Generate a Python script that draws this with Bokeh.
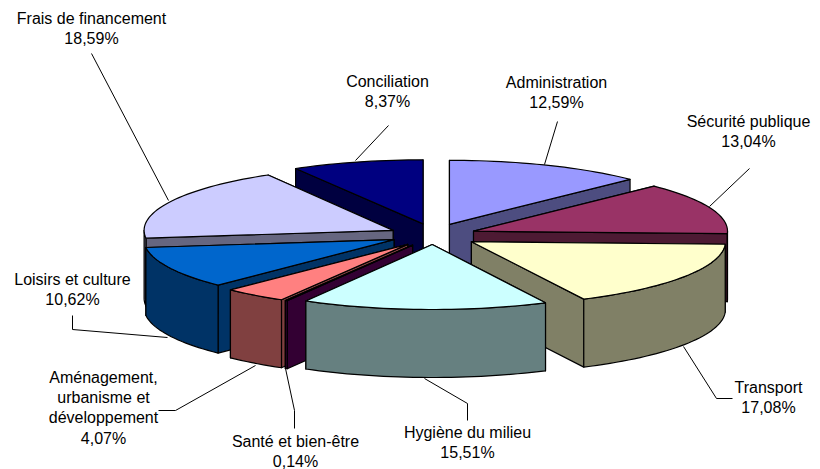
import math
from bokeh.plotting import figure
from bokeh.models import Range1d
from bokeh.core.properties import value
from bokeh.embed import file_html
from bokeh.resources import INLINE

categories = ["Administration", "Sécurité publique", "Transport", "Hygiène du milieu",
              "Santé et bien-être", "Aménagement, urbanisme et développement",
              "Loisirs et culture", "Frais de financement", "Conciliation"]
shares = [12.59, 13.04, 17.08, 15.51, 0.14, 4.07, 10.62, 18.59, 8.37]
share_labels = ["12,59%", "13,04%", "17,08%", "15,51%", "0,14%", "4,07%", "10,62%", "18,59%", "8,37%"]

top_colors = ["#9999FF", "#993366", "#FFFFCC", "#CCFFFF", "#660066", "#FF8080", "#0066CC", "#CCCCFF", "#000080"]
side_colors = ["#4D4D80", "#4D1A33", "#808066", "#668080", "#330033", "#804040", "#003366", "#666680", "#000040"]

# layout (pixels of the page)
CX, CY, A, B, DEPTH = 432.0, 233.5, 254.0, 64.0, 68.0
EX, EY = 44.0, 10.5
# small per-slice corrections for the reference's perspective
nudge_x = [0, 0, 2, 1, 2, 2, 1, 0, 2]
nudge_y = [0, 1, 2, 0, 2, 2, 1, 1, 0]
radius_x = [254, 254, 254, 256, 254, 252, 250, 249, 254]
radius_y = [64, 64, 64, 65, 64, 64, 64, 64, 64]
paint_order = [8, 0, 7, 1, 6, 2, 5, 4, 3]
label_lines = [["Administration"], ["Sécurité publique"], ["Transport"], ["Hygiène du milieu"],
               ["Santé et bien-être"], ["Aménagement,", "urbanisme et", "développement"],
               ["Loisirs et culture"], ["Frais de financement"], ["Conciliation"]]
label_pos = [(556, 82), (748, 121), (768, 387), (467, 432), (295, 441), (103, 377), (72, 279), (91, 18), (387, 81)]
LINE_H = 20.2
leaders = [
    [(557, 121), (544, 164)],
    [(749, 168), (709, 206)],
    [(683, 346), (716, 398), (732, 398)],
    [(424, 378), (467, 403), (467, 420)],
    [(285, 368), (294, 410), (294, 428)],
    [(255, 365), (175, 410), (158, 410)],
    [(167, 337), (72, 329), (72, 315)],
    [(91, 53), (168, 200)],
    [(388, 125), (355, 160)],
]

W, H = 820, 469
p = figure(width=W, height=H, output_backend="svg", toolbar_location=None,
           x_range=Range1d(0, W), y_range=Range1d(H, 0),
           min_border=0, outline_line_color=None, background_fill_color="white")
p.xaxis.visible = False
p.yaxis.visible = False
p.grid.visible = False

for pts in leaders:
    p.line([q[0] for q in pts], [q[1] for q in pts], line_color="black", line_width=1)

total = sum(shares)
bounds = [0.0]
for s in shares:
    bounds.append(bounds[-1] + s / total * 2 * math.pi)


def arc(ax, ay, rx, ry, t0, t1):
    n = max(2, int((t1 - t0) / 0.03) + 2)
    ts = [t0 + (t1 - t0) * i / (n - 1) for i in range(n)]
    return [(ax + rx * math.sin(t), ay - ry * math.cos(t)) for t in ts]


def poly(pts, color):
    p.patch([q[0] for q in pts], [q[1] for q in pts], fill_color=color,
            line_color="black", line_width=1.2, line_join="round")


for i in paint_order:
    t0, t1 = bounds[i], bounds[i + 1]
    mid = (t0 + t1) / 2
    ax = CX + EX * math.sin(mid) + nudge_x[i]
    ay = CY - EY * math.cos(mid) + nudge_y[i]
    rx, ry = radius_x[i], radius_y[i]
    outer = arc(ax, ay, rx, ry, t0, t1)
    walls = sorted([outer[0], outer[-1]], key=lambda q: q[1])
    for c in walls:
        poly([(ax, ay), c, (c[0], c[1] + DEPTH), (ax, ay + DEPTH)], side_colors[i])
    lo, hi = max(t0, math.pi / 2), min(t1, 3 * math.pi / 2)
    if hi > lo:
        rim = arc(ax, ay, rx, ry, lo, hi)
        poly(rim + [(q[0], q[1] + DEPTH) for q in reversed(rim)], side_colors[i])
    poly([(ax, ay)] + outer, top_colors[i])

xs, ys, txt = [], [], []
for lines, lab, pos in zip(label_lines, share_labels, label_pos):
    for k, t in enumerate(lines + [lab]):
        xs.append(pos[0])
        ys.append(pos[1] + k * LINE_H)
        txt.append(t)
p.text(xs, ys, text=txt, text_font=value("Liberation Sans"),
       text_font_size="16px", text_align="center", text_baseline="middle", text_color="black")

open("out.html", "w").write(file_html(p, INLINE))
